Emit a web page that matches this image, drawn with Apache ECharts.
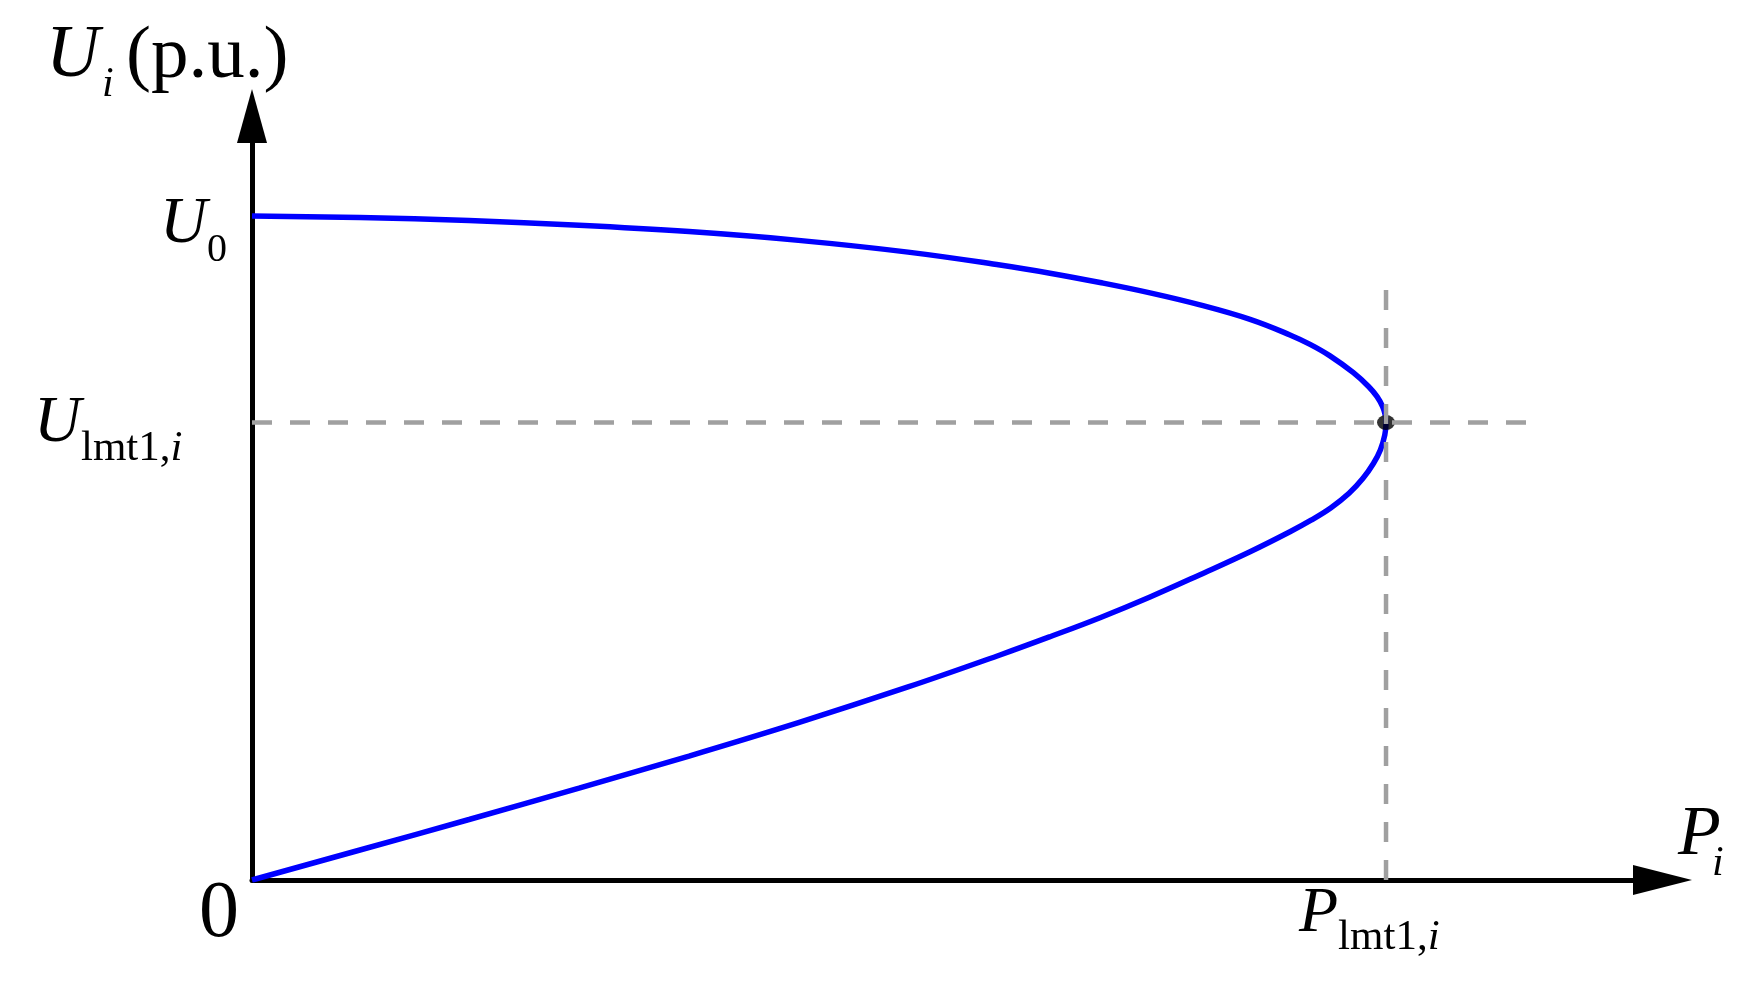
<!DOCTYPE html>
<html>
<head>
<meta charset="utf-8">
<script src="https://cdn.jsdelivr.net/npm/echarts@6/dist/echarts.min.js"></script>
<style>
  html, body { margin: 0; padding: 0; background: #fff; }
  #chart { width: 1754px; height: 993px; }
</style>
</head>
<body>
<div id="chart"></div>
<script>
// P-U nose curve, P relative to P_lmt1,i and U in p.u. (U0 = 1)
// upper branch from U0 to the nose, then lower branch back to the origin
const P_curve = [0, 0.0952, 0.1914, 0.2884, 0.3854, 0.4819, 0.5785, 0.6596, 0.7037, 0.7478, 0.7919, 0.8360, 0.8801, 0.9153,
  0.9330, 0.9506, 0.9712, 0.9848, 0.9921, 0.9970, 0.9993, 1.0000,
  0.9989, 0.9950, 0.9890, 0.9797, 0.9674, 0.9515, 0.9339, 0.9153, 0.8801, 0.8360, 0.7919, 0.7478, 0.7037, 0.6596, 0.5785,
  0.4819, 0.3854, 0.2884, 0.1914, 0.0952, 0];
const U_curve = [1.0000, 0.9977, 0.9931, 0.9861, 0.9765, 0.9633, 0.9456, 0.9262, 0.9139, 0.8998, 0.8842, 0.8661, 0.8443, 0.8209,
  0.8066, 0.7893, 0.7640, 0.7429, 0.7279, 0.7128, 0.7003, 0.6890,
  0.6702, 0.6476, 0.6276, 0.6050, 0.5824, 0.5607, 0.5419, 0.5245, 0.4944, 0.4598, 0.4262, 0.3950, 0.3664, 0.3389, 0.2907,
  0.2370, 0.1867, 0.1384, 0.0911, 0.0452, 0];

const U0 = 1.0;
const P_lmt = 1.0;
const U_lmt = 0.689;
const hGuideEnd = 1.124;   // horizontal dashed guide runs to this P
const vGuideTop = 0.892;   // vertical dashed guide runs up to this U

const xMax = 1.2438;
const yMax = 1.1506;

const FONT = "'Liberation Serif', 'DejaVu Serif', serif";

const chart = echarts.init(document.getElementById("chart"));

const axisCommon = {
  type: "value",
  min: 0,
  axisTick: { show: false },
  axisLabel: { show: false },
  splitLine: { show: false },
};

const guideStyle = { color: "#a0a0a0", width: 4.5, type: [20, 18], cap: "butt" };

chart.setOption({
  animation: false,
  backgroundColor: "#fff",
  grid: {
    left: 252,
    right: 91.5,
    top: 116,
    bottom: 113,
    outerBoundsMode: "none",
  },
  xAxis: {
    ...axisCommon,
    max: xMax,
    axisLine: {
      onZero: false,
      symbol: ["none", "triangle"],
      symbolSize: [30, 59],
      lineStyle: { color: "#000", width: 5 },
    },
  },
  yAxis: {
    ...axisCommon,
    max: yMax,
    axisLine: {
      onZero: false,
      symbol: ["none", "triangle"],
      symbolSize: [30, 54],
      lineStyle: { color: "#000", width: 5 },
    },
  },
  series: [
    {
      type: "line",
      data: P_curve.map((p, i) => [p, U_curve[i]]),
      showSymbol: false,
      smooth: 0.4,
      lineStyle: { color: "#0000ff", width: 5.5 },
      z: 2,
    },
    {
      type: "scatter",
      data: [[P_lmt, U_lmt]],
      symbol: "circle",
      symbolSize: [18, 15],
      itemStyle: { color: "#000" },
      z: 3,
    },
    {
      type: "line",
      data: [[0, U_lmt], [hGuideEnd, U_lmt]],
      showSymbol: false,
      lineStyle: guideStyle,
      z: 4,
    },
    {
      type: "line",
      data: [[P_lmt, 0], [P_lmt, vGuideTop]],
      showSymbol: false,
      lineStyle: guideStyle,
      z: 4,
    },
  ],
});

// text helpers: place by left x and alphabetic baseline
const measureCtx = document.createElement("canvas").getContext("2d");
const fontStr = (size, italic) => (italic ? "italic " : "") + size + "px " + FONT;

const textEl = (x, baseline, str, size, italic, align) => ({
  type: "text",
  x: x,
  y: baseline - 0.275 * size,
  silent: true,
  style: {
    text: str,
    font: fontStr(size, italic),
    fill: "#000",
    align: align || "left",
    verticalAlign: "middle",
  },
});

// parts: [text, size, italic, baseline]
const chain = (x, parts) => {
  const out = [];
  let cx = x;
  parts.forEach(([str, size, italic, baseline]) => {
    out.push(textEl(cx, baseline, str, size, italic));
    measureCtx.font = fontStr(size, italic);
    cx += measureCtx.measureText(str).width;
  });
  return out;
};

const origin = chart.convertToPixel({ gridIndex: 0 }, [0, 0]);
const u0Px = chart.convertToPixel({ gridIndex: 0 }, [0, U0]);
const ulPx = chart.convertToPixel({ gridIndex: 0 }, [P_lmt, U_lmt]);

const labels = [
  // axis names
  textEl(46, 77, "U", 74, true),
  textEl(102, 97, "i", 42, true),
  textEl(126, 78, "(p.u.)", 75, false),
  textEl(1678, 855, "P", 70, true),
  textEl(1712, 876, "i", 42, true),
  // origin
  textEl(origin[0] - 33, origin[1] + 57, "0", 80, false, "center"),
  // U0
  ...chain(160, [["U", 65, true, u0Px[1] + 27], ["0", 40, false, u0Px[1] + 46]]),
  // U lmt1,i
  ...chain(34, [["U", 65, true, ulPx[1] + 19], ["lmt1,", 43, false, ulPx[1] + 38], ["i", 43, true, ulPx[1] + 38]]),
  // P lmt1,i
  ...chain(ulPx[0] - 87, [["P", 64, true, origin[1] + 52], ["lmt1,", 43, false, origin[1] + 70], ["i", 43, true, origin[1] + 70]]),
];

chart.setOption({ graphic: labels });
</script>
</body>
</html>
